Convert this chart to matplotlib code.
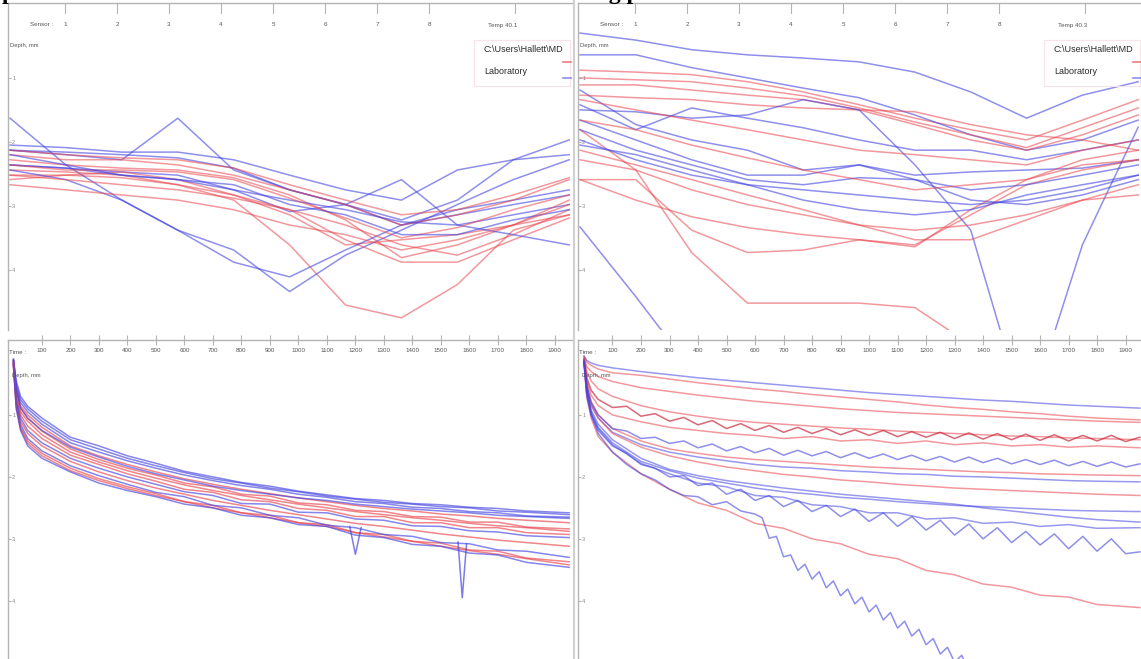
import matplotlib
matplotlib.use("Agg")
import matplotlib.pyplot as plt
from matplotlib.lines import Line2D
from matplotlib.patches import Rectangle
import numpy as np

W, H = 1141, 659

## data: depth (mm)
# top panels: one value per sensor position
sensor = [0, 1, 2, 3, 4, 5, 6, 7, 8, 9, 10]

tl_blue = [
    [2.13, 2.20, 2.28, 1.63, 2.44, 2.75, 2.98, 3.30, 3.06, 2.91, 2.75],
    [1.63, 2.36, 2.91, 3.38, 3.69, 4.34, 3.77, 3.38, 2.98, 2.59, 2.28],
    [2.36, 2.41, 2.47, 2.52, 2.75, 3.09, 2.98, 2.59, 3.30, 3.14, 2.98],
    [2.13, 2.16, 2.20, 2.25, 2.41, 2.75, 2.98, 3.22, 2.91, 2.28, 1.97],
    [2.44, 2.59, 2.91, 3.38, 3.88, 4.11, 3.69, 3.30, 3.14, 2.98, 2.83],
    [2.05, 2.09, 2.16, 2.16, 2.28, 2.52, 2.75, 2.91, 2.44, 2.28, 2.20],
    [2.36, 2.41, 2.52, 2.59, 2.75, 2.91, 3.06, 3.25, 3.30, 3.45, 3.61],
    [2.20, 2.36, 2.52, 2.59, 2.67, 2.98, 3.14, 3.45, 3.45, 3.22, 3.06],
]
tl_red = [
    [2.52, 2.52, 2.56, 2.67, 2.91, 3.61, 4.55, 4.75, 4.23, 3.38, 3.14],
    [2.44, 2.47, 2.52, 2.67, 2.83, 3.14, 3.61, 3.53, 3.45, 3.30, 3.14],
    [2.28, 2.36, 2.41, 2.44, 2.56, 2.83, 3.22, 3.81, 3.61, 3.30, 2.91],
    [2.59, 2.52, 2.47, 2.59, 2.83, 3.06, 3.53, 3.88, 3.88, 3.53, 3.19],
    [2.20, 2.28, 2.28, 2.36, 2.52, 2.75, 2.98, 3.30, 3.14, 2.91, 2.59],
    [2.52, 2.59, 2.67, 2.75, 2.88, 3.06, 3.30, 3.61, 3.77, 3.45, 3.06],
    [2.36, 2.44, 2.44, 2.47, 2.59, 2.88, 3.19, 3.50, 3.34, 3.06, 2.83],
    [2.13, 2.20, 2.25, 2.28, 2.41, 2.67, 2.91, 3.14, 3.06, 2.83, 2.56],
    [2.67, 2.75, 2.83, 2.91, 3.06, 3.30, 3.45, 3.69, 3.53, 3.30, 2.98],
]

tr_blue = [
    [0.30, 0.41, 0.56, 0.64, 0.69, 0.75, 0.91, 1.22, 1.63, 1.27, 1.06],
    [0.64, 0.64, 0.84, 1.00, 1.16, 1.31, 1.58, 1.89, 2.13, 1.97, 1.66],
    [1.42, 1.81, 1.47, 1.63, 1.78, 1.97, 2.13, 2.13, 2.28, 2.13, 1.97],
    [1.19, 1.73, 1.97, 2.13, 2.44, 2.36, 2.52, 2.47, 2.44, 2.41, 2.28],
    [1.66, 1.97, 2.28, 2.52, 2.52, 2.36, 2.59, 2.91, 2.98, 2.83, 2.59],
    [3.33, 4.42, 5.56],
    [1.50, 1.53, 1.63, 1.58, 1.34, 1.50, 2.36, 3.38, 6.34, 3.61, 1.77],
    [1.97, 2.28, 2.52, 2.67, 2.75, 2.83, 2.91, 2.98, 2.91, 2.75, 2.52],
    [2.05, 2.20, 2.44, 2.67, 2.91, 3.06, 3.14, 3.06, 2.83, 2.67, 2.52],
    [1.81, 2.13, 2.36, 2.59, 2.67, 2.56, 2.59, 2.75, 2.67, 2.52, 2.36],
]
tr_red = [
    [0.88, 0.91, 0.95, 1.06, 1.22, 1.42, 1.63, 1.81, 1.97, 1.66, 1.34],
    [1.00, 1.03, 1.06, 1.16, 1.28, 1.47, 1.69, 1.89, 2.09, 1.78, 1.47],
    [1.11, 1.11, 1.19, 1.27, 1.34, 1.50, 1.73, 1.97, 2.13, 1.89, 1.58],
    [1.27, 1.31, 1.34, 1.42, 1.47, 1.50, 1.53, 1.73, 1.89, 1.97, 2.13],
    [1.81, 2.44, 3.73, 4.52, 4.52, 4.52, 4.59, 5.17],
    [2.59, 2.59, 3.38, 3.73, 3.69, 3.53, 3.61, 3.14, 2.67, 2.44, 2.28],
    [2.59, 2.91, 3.17, 3.34, 3.45, 3.53, 3.64, 3.06, 2.59, 2.36, 2.28],
    [2.28, 2.44, 2.75, 2.98, 3.14, 3.30, 3.53, 3.53, 3.22, 2.91, 2.67],
    [2.13, 2.36, 2.59, 2.83, 3.06, 3.30, 3.38, 3.30, 3.14, 2.91, 2.83],
    [1.34, 1.50, 1.66, 1.81, 1.97, 2.13, 2.20, 2.28, 2.36, 2.13, 1.97],
    [1.66, 1.81, 2.05, 2.25, 2.44, 2.59, 2.75, 2.67, 2.59, 2.28, 2.13],
]

# bottom panels: depth against time
time_bot = [0, 10, 25, 50, 100, 200, 300, 400, 500, 600, 700, 800, 900,
            1000, 1100, 1200, 1300, 1400, 1500, 1600, 1700, 1800, 1950]

bl_blue = [
    [0.10, 0.45, 0.70, 0.86, 1.05, 1.36, 1.50, 1.66, 1.78, 1.91, 2.00, 2.09, 2.15, 2.23, 2.29, 2.35, 2.38, 2.43, 2.45, 2.49, 2.51, 2.55, 2.58],
    [0.10, 0.50, 0.75, 0.90, 1.10, 1.40, 1.55, 1.70, 1.82, 1.93, 2.03, 2.10, 2.18, 2.24, 2.31, 2.36, 2.41, 2.44, 2.48, 2.50, 2.55, 2.57, 2.61],
    [0.12, 0.55, 0.80, 0.95, 1.15, 1.45, 1.60, 1.74, 1.86, 1.97, 2.06, 2.14, 2.20, 2.28, 2.33, 2.40, 2.43, 2.49, 2.51, 2.56, 2.58, 2.63, 2.65],
    [0.12, 0.60, 0.88, 1.05, 1.25, 1.52, 1.68, 1.83, 1.95, 2.05, 2.15, 2.22, 2.28, 2.34, 2.38, 2.44, 2.48, 2.52, 2.55, 2.58, 2.62, 2.64, 2.67],
    [0.16, 0.75, 1.05, 1.25, 1.45, 1.70, 1.86, 2.00, 2.12, 2.24, 2.30, 2.43, 2.44, 2.57, 2.58, 2.68, 2.70, 2.79, 2.80, 2.87, 2.89, 2.95, 2.98],
    [0.18, 0.82, 1.15, 1.38, 1.58, 1.82, 1.98, 2.12, 2.25, 2.32, 2.46, 2.50, 2.62, 2.66, 2.78, 2.82, 2.93, 2.96, 3.06, 3.08, 3.18, 3.20, 3.30],
    [0.20, 0.90, 1.25, 1.50, 1.70, 1.92, 2.10, 2.22, 2.32, 2.44, 2.50, 2.62, 2.66, 2.77, 2.80, 2.94, 2.98, 3.09, 3.12, 3.23, 3.26, 3.38, 3.46],
]
bl_red = [
    [0.12, 0.58, 0.85, 1.00, 1.20, 1.50, 1.66, 1.80, 1.92, 2.03, 2.12, 2.20, 2.27, 2.34, 2.40, 2.46, 2.51, 2.55, 2.60, 2.63, 2.67, 2.70, 2.74],
    [0.14, 0.62, 0.90, 1.05, 1.26, 1.55, 1.72, 1.86, 1.97, 2.10, 2.16, 2.28, 2.31, 2.42, 2.45, 2.54, 2.56, 2.64, 2.65, 2.73, 2.73, 2.81, 2.84],
    [0.14, 0.65, 0.95, 1.10, 1.32, 1.60, 1.76, 1.90, 2.02, 2.13, 2.22, 2.30, 2.37, 2.44, 2.50, 2.56, 2.61, 2.66, 2.70, 2.75, 2.79, 2.82, 2.88],
    [0.15, 0.70, 1.00, 1.18, 1.38, 1.65, 1.80, 1.95, 2.07, 2.20, 2.25, 2.37, 2.40, 2.51, 2.54, 2.64, 2.64, 2.74, 2.74, 2.82, 2.82, 2.90, 2.93],
    [0.16, 0.78, 1.10, 1.30, 1.50, 1.75, 1.92, 2.06, 2.18, 2.28, 2.38, 2.46, 2.54, 2.61, 2.68, 2.75, 2.80, 2.86, 2.92, 2.97, 3.02, 3.06, 3.12],
    [0.18, 0.85, 1.20, 1.42, 1.62, 1.86, 2.03, 2.16, 2.27, 2.40, 2.46, 2.58, 2.62, 2.74, 2.77, 2.90, 2.93, 3.04, 3.07, 3.18, 3.20, 3.31, 3.37],
    [0.20, 0.88, 1.22, 1.46, 1.66, 1.90, 2.06, 2.19, 2.30, 2.40, 2.50, 2.58, 2.66, 2.74, 2.80, 2.90, 2.97, 3.04, 3.12, 3.19, 3.25, 3.32, 3.42],
]
# two sharp single-sample dips on blue runs
bl_spike_time = [[1180, 1200, 1220], [1560, 1575, 1590]]
bl_spike_depth = [[2.80, 3.25, 2.82], [3.05, 3.95, 3.08]]

br_blue = [
    [0.05, 0.12, 0.16, 0.20, 0.24, 0.30, 0.35, 0.40, 0.44, 0.48, 0.52, 0.56, 0.60, 0.64, 0.67, 0.70, 0.73, 0.76, 0.78, 0.81, 0.84, 0.86, 0.89],
    [0.12, 0.58, 0.85, 1.05, 1.28, 1.48, 1.60, 1.68, 1.74, 1.80, 1.84, 1.86, 1.90, 1.92, 1.95, 1.96, 1.99, 2.00, 2.02, 2.04, 2.06, 2.07, 2.08],
    [0.14, 0.65, 0.95, 1.20, 1.45, 1.75, 1.90, 2.02, 2.10, 2.18, 2.24, 2.28, 2.33, 2.36, 2.40, 2.43, 2.46, 2.48, 2.50, 2.52, 2.54, 2.55, 2.56],
    [0.15, 0.68, 0.98, 1.22, 1.48, 1.78, 1.95, 2.10, 2.16, 2.30, 2.33, 2.45, 2.48, 2.58, 2.58, 2.68, 2.66, 2.75, 2.73, 2.80, 2.77, 2.83, 2.82],
    [0.14, 0.62, 0.92, 1.15, 1.40, 1.70, 1.88, 1.98, 2.06, 2.12, 2.18, 2.23, 2.28, 2.32, 2.36, 2.40, 2.44, 2.50, 2.55, 2.60, 2.65, 2.69, 2.73],
]
br_red = [
    [0.05, 0.15, 0.20, 0.26, 0.32, 0.36, 0.42, 0.48, 0.53, 0.58, 0.62, 0.67, 0.71, 0.75, 0.79, 0.84, 0.88, 0.91, 0.95, 0.98, 1.02, 1.05, 1.08],
    [0.08, 0.22, 0.30, 0.38, 0.46, 0.56, 0.62, 0.68, 0.73, 0.78, 0.82, 0.86, 0.90, 0.93, 0.96, 0.98, 1.00, 1.02, 1.04, 1.06, 1.08, 1.10, 1.12],
    [0.10, 0.45, 0.68, 0.85, 1.00, 1.11, 1.20, 1.25, 1.30, 1.33, 1.38, 1.35, 1.42, 1.40, 1.46, 1.42, 1.48, 1.45, 1.50, 1.48, 1.52, 1.50, 1.53],
    [0.12, 0.55, 0.82, 1.05, 1.30, 1.52, 1.66, 1.76, 1.84, 1.90, 1.96, 2.00, 2.05, 2.08, 2.12, 2.15, 2.18, 2.20, 2.22, 2.24, 2.26, 2.28, 2.30],
    [0.15, 0.72, 1.05, 1.35, 1.60, 1.95, 2.20, 2.42, 2.54, 2.75, 2.83, 3.00, 3.08, 3.25, 3.32, 3.51, 3.58, 3.73, 3.78, 3.91, 3.94, 4.06, 4.11],
    [0.12, 0.50, 0.78, 1.00, 1.22, 1.42, 1.55, 1.62, 1.68, 1.72, 1.75, 1.78, 1.81, 1.84, 1.86, 1.88, 1.90, 1.92, 1.93, 1.95, 1.96, 1.97, 1.98],
    [0.08, 0.30, 0.45, 0.58, 0.70, 0.85, 0.95, 1.02, 1.08, 1.12, 1.15, 1.18, 1.21, 1.23, 1.26, 1.28, 1.30, 1.32, 1.34, 1.35, 1.37, 1.38, 1.40],
]
# the jittery runs, read every 50 s
time_fine = [0, 10, 25] + list(range(50, 2000, 50))
br_fine_blue = [
    [0.12, 0.55, 0.80,
     1.00, 1.22, 1.26, 1.38, 1.36, 1.46, 1.42, 1.53, 1.47, 1.58, 1.51, 1.61, 1.54, 1.65, 1.57, 1.66, 1.59, 1.69, 1.61, 1.70,
     1.63, 1.72, 1.65, 1.74, 1.67, 1.76, 1.68, 1.77, 1.70, 1.79, 1.72, 1.80, 1.73, 1.82, 1.75, 1.83, 1.76, 1.84, 1.79],
    [0.15, 0.70, 1.00,
     1.25, 1.50, 1.62, 1.80, 1.86, 2.00, 1.98, 2.14, 2.10, 2.28, 2.20, 2.38, 2.30, 2.48, 2.38, 2.56, 2.46, 2.64, 2.52, 2.72,
     2.58, 2.80, 2.64, 2.86, 2.70, 2.94, 2.76, 3.00, 2.82, 3.06, 2.88, 3.10, 2.92, 3.16, 2.96, 3.20, 3.00, 3.24, 3.21],
]
br_fine_red = [
    [0.10, 0.40, 0.60,
     0.75, 0.88, 0.86, 1.02, 0.98, 1.10, 1.04, 1.16, 1.09, 1.22, 1.14, 1.25, 1.17, 1.28, 1.20, 1.30, 1.22, 1.32, 1.24, 1.33,
     1.25, 1.35, 1.27, 1.36, 1.28, 1.38, 1.29, 1.39, 1.30, 1.40, 1.31, 1.41, 1.32, 1.42, 1.33, 1.42, 1.33, 1.43, 1.36],
]
# the blue run that keeps sinking, sampled finer
br_zig_time = [0, 25, 50, 100, 150, 200, 250, 300, 350, 400, 450, 500, 550, 600,
               625, 650, 675, 700, 725, 750, 775, 800, 825, 850, 875, 900, 925, 950,
               975, 1000, 1025, 1050, 1075, 1100, 1125, 1150, 1175, 1200, 1225, 1250,
               1275, 1300, 1325, 1350]
br_zig_depth = [0.15, 1.00, 1.30, 1.60, 1.80, 1.95, 2.05, 2.20, 2.30, 2.32, 2.45, 2.40, 2.55, 2.60,
                2.66, 2.99, 2.96, 3.29, 3.26, 3.51, 3.41, 3.65, 3.53, 3.79, 3.68, 3.92, 3.81, 4.05,
                3.94, 4.18, 4.07, 4.31, 4.19, 4.44, 4.33, 4.57, 4.46, 4.71, 4.61, 4.86,
                4.75, 4.99, 4.88, 5.13]

time_ticks = list(range(100, 2000, 100))
header_labels = ["1", "2", "3", "4", "5", "6", "7", "8"]

BLUE = "#4444e0"
RED = "#e8444c"
GRID = "#b4b4b4"
TXT = "#555555"
LW = 1.1

fig = plt.figure(figsize=(W / 100, H / 100), dpi=100)
plt.rcParams['font.family'] = ['Liberation Sans', 'DejaVu Sans']


def box(x0, y0, x1, y1):
    return [x0 / W, 1 - y1 / H, (x1 - x0) / W, (y1 - y0) / H]


def style(ax):
    for s in ['right', 'bottom']:
        ax.spines[s].set_visible(False)
    for s in ['left', 'top']:
        ax.spines[s].set_color(GRID)
        ax.spines[s].set_linewidth(1.0)
    ax.set_yticks([1, 2, 3, 4])
    ax.tick_params(axis='y', direction='in', length=2, pad=-3, labelsize=4,
                   labelcolor="#888888", color=GRID)
    for lab in ax.get_yticklabels():
        lab.set_horizontalalignment('left')


# top panels
axes_top = []
for x0, x1 in [(8, 572), (578, 1141)]:
    ax = fig.add_axes(box(x0, 3, x1, 330))
    ax.set_xlim(-0.036, 10.05)
    ax.set_ylim(4.94, -0.17)
    style(ax)
    ax.set_xticks([])
    axes_top.append(ax)

for ax, blues, reds in [(axes_top[0], tl_blue, tl_red), (axes_top[1], tr_blue, tr_red)]:
    n = max(len(blues), len(reds))
    for k in range(n):
        if k < len(blues):
            d = blues[k]
            ax.plot(sensor[:len(d)], d, color=BLUE, lw=LW, alpha=0.6)
        if k < len(reds):
            d = reds[k]
            ax.plot(sensor[:len(d)], d, color=RED, lw=LW, alpha=0.55)

# bottom panels
axes_bot = []
for x0, x1, xmin, xmax in [(8, 572, -19, 1960), (578, 1141, -21, 1954)]:
    ax = fig.add_axes(box(x0, 340, x1, 659))
    ax.set_xlim(xmin, xmax)
    ax.set_ylim(4.94, -0.21)
    style(ax)
    ax.xaxis.tick_top()
    ax.set_xticks(time_ticks)
    ax.set_xticklabels([str(t) for t in time_ticks])
    ax.tick_params(axis='x', direction='inout', length=7, pad=-13, labelsize=4.5,
                   labelcolor=TXT, color=GRID)
    axes_bot.append(ax)

axl, axr = axes_bot
for k in range(max(len(bl_blue), len(bl_red))):
    if k < len(bl_red):
        axl.plot(time_bot, bl_red[k], color=RED, lw=LW, alpha=0.65)
    if k < len(bl_blue):
        axl.plot(time_bot, bl_blue[k], color=BLUE, lw=LW, alpha=0.65)
for t, d in zip(bl_spike_time, bl_spike_depth):
    axl.plot(t, d, color=BLUE, lw=LW, alpha=0.7)

for k in range(max(len(br_blue), len(br_red))):
    if k < len(br_red):
        axr.plot(time_bot, br_red[k], color=RED, lw=LW, alpha=0.55)
    if k < len(br_blue):
        axr.plot(time_bot, br_blue[k], color=BLUE, lw=LW, alpha=0.55)
for d in br_fine_red:
    axr.plot(time_fine, d, color="#c8283c", lw=LW, alpha=0.7)
for d in br_fine_blue:
    axr.plot(time_fine, d, color=BLUE, lw=LW, alpha=0.6)
axr.plot(br_zig_time, br_zig_depth, color=BLUE, lw=LW, alpha=0.6)


# chrome: headers, labels, legend
def ftext(x, y, s, **kw):
    fig.text(x / W, 1 - y / H, s, **kw)


def fline(xs, ys, **kw):
    fig.add_artist(Line2D([x / W for x in xs], [1 - y / H for y in ys], **kw))


for off, temp in [(0, "Temp 40.1"), (570, "Temp 40.3")]:
    ftext(off + 30, 25, "Sensor :", fontsize=4.5, color=TXT, va='center')
    for i, lab in enumerate(header_labels):
        x = off + 65 + 52 * i
        fline([x, x], [3, 13], color=GRID, lw=0.8)
        ftext(x, 25, lab, fontsize=4.5, color=TXT, ha='center', va='center')
    fline([off + 515, off + 515], [3, 13], color=GRID, lw=0.8)
    ftext(off + 488, 25, temp, fontsize=4.5, color=TXT, va='center')
    ftext(off + 10, 45, "Depth, mm", fontsize=4.2, color=TXT, va='center')
    ftext(off + 12, 376, "Depth, mm", fontsize=4.2, color=TXT, va='center')
    ftext(off + 9, 353, "Time :", fontsize=4.5, color=TXT, va='center')
    ftext(off + 484, 50, "C:\\Users\\Hallett\\MD", fontsize=6.5, color="#2a2a2a", va='center',
          family=['Liberation Sans Narrow', 'Liberation Sans'])
    ftext(off + 484, 72, "Laboratory", fontsize=6.5, color="#2a2a2a", va='center',
          family=['Liberation Sans Narrow', 'Liberation Sans'])
    fig.add_artist(Rectangle(((off + 474) / W, 1 - 86 / H), 96 / W, 46 / H,
                             fill=False, edgecolor="#f8e4e8", lw=0.8))
    fline([off + 563, off + 571], [62, 62], color=RED, lw=1.2, alpha=0.7)
    fline([off + 563, off + 571], [78, 78], color=BLUE, lw=1.2, alpha=0.6)

fline([574, 574], [0, 659], color="#d0d0d0", lw=1.5)

# page title, only its descenders show at the top edge
ftext(2, -1, "profiles of sensors", fontsize=17, fontweight='bold',
      family='Liberation Serif', va='baseline')
ftext(568, -1, "Long profiles", fontsize=17, fontweight='bold',
      family='Liberation Serif', va='baseline')

fig.savefig("out.png", dpi=100)
